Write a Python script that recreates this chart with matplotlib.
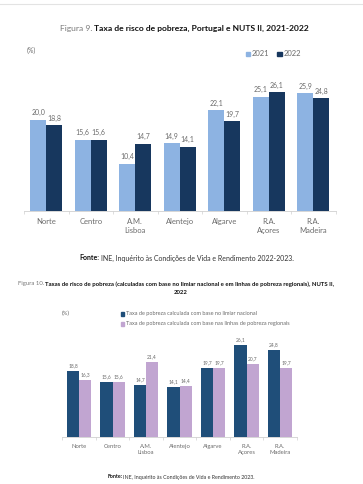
import numpy as np
import matplotlib.pyplot as plt
from matplotlib.patches import Rectangle
from matplotlib.lines import Line2D

plt.rcParams['font.family'] = ['Lato', 'DejaVu Sans']

W, H = 363, 484
regioes = ['Norte', 'Centro', 'A.M.\nLisboa', 'Alentejo', 'Algarve', 'R.A.\nAçores', 'R.A.\nMadeira']
taxa_2021 = [20.0, 15.6, 10.4, 14.9, 22.1, 25.1, 25.9]
taxa_2022 = [18.8, 15.6, 14.7, 14.1, 19.7, 26.1, 24.8]
limiar_nacional = [18.8, 15.6, 14.7, 14.1, 19.7, 26.1, 24.8]
linhas_regionais = [16.3, 15.6, 21.4, 14.4, 19.7, 20.7, 19.7]

c_light, c_navy = '#8db3e2', '#17375e'
c_blue, c_lilac = '#1f4e79', '#c1a5d1'
grey = '#6b6b6b'

fig = plt.figure(figsize=(W / 100, H / 100), dpi=100, facecolor='white')
renderer = fig.canvas.get_renderer()


def fx(x):
    return x / W


def fy(y):
    return 1 - y / H


def rich_text(parts, cx, y, size, gap=2.0):
    # parts: list of (texto, peso, cor); centred at cx (pixels), gap px between parts
    objs = []
    for s, wgt, col in parts:
        t = fig.text(0, fy(y), s, fontsize=size, fontweight=wgt, color=col, va='center', ha='left')
        objs.append(t)
    widths = [o.get_window_extent(renderer).width for o in objs]
    x = cx - (sum(widths) + gap * (len(objs) - 1)) / 2
    for o, w in zip(objs, widths):
        o.set_x(fx(x))
        x += w + gap


def setup_axis(ax, size, pad):
    ax.set_xlim(-0.5, 6.5)
    ax.set_ylim(0, 30)
    for s in ['top', 'right', 'left']:
        ax.spines[s].set_visible(False)
    ax.spines['bottom'].set_color('#d0d0d0')
    ax.spines['bottom'].set_linewidth(0.6)
    ax.set_yticks([])
    ax.set_xticks(range(7))
    ax.set_xticklabels(regioes, fontsize=size, color=grey, linespacing=1.3)
    ax.tick_params(axis='x', length=0, pad=pad)
    ax.set_xticks(np.arange(-0.5, 7, 1), minor=True)
    ax.tick_params(axis='x', which='minor', length=2, color='#d0d0d0', width=0.5)


# page line at the top
fig.add_artist(Line2D([0, 1], [fy(4), fy(4)], color='#e3e3e3', lw=0.8))

# ---- Figura 9 ----
rich_text([('Figura 9.', 'normal', '#7a7a7a'),
           ('Taxa de risco de pobreza, Portugal e NUTS II, 2021-2022', 'bold', '#111111')], 184, 28, 6.1, gap=2.0)
fig.text(fx(27), fy(50), '(%)', fontsize=5, color=grey, va='center')

ax1 = fig.add_axes([fx(24), (H - 211) / H, 7 * 44.5 / W, 136.5 / H])
x = np.arange(7)
bw = 0.36
ax1.bar(x - bw / 2, taxa_2021, bw, color=c_light)
ax1.bar(x + bw / 2, taxa_2022, bw, color=c_navy)
for i in range(7):
    ax1.text(x[i] - bw / 2, taxa_2021[i] + 0.8, f'{taxa_2021[i]:.1f}'.replace('.', ','),
             ha='center', va='bottom', fontsize=5, color=grey)
    ax1.text(x[i] + bw / 2, taxa_2022[i] + 0.8, f'{taxa_2022[i]:.1f}'.replace('.', ','),
             ha='center', va='bottom', fontsize=5, color=grey)
setup_axis(ax1, 5.5, 5)

# legenda 1
fig.add_artist(Rectangle((fx(246), fy(56.2)), fx(4.5), 4.5 / H, color=c_light))
fig.text(fx(252), fy(54), '2021', fontsize=5.5, color=grey, va='center')
fig.add_artist(Rectangle((fx(277), fy(56.2)), fx(4.5), 4.5 / H, color=c_navy))
fig.text(fx(283.5), fy(54), '2022', fontsize=5.5, color=grey, va='center')

rich_text([('Fonte:', 'bold', '#111111'),
           ('INE, Inquérito às Condições de Vida e Rendimento 2022-2023.', 'normal', '#333333')], 187, 258, 5, gap=1.5)

# ---- Figura 10 ----
rich_text([('Figura 10.', 'normal', '#7a7a7a'),
           ('Taxas de risco de pobreza (calculadas com base no limiar nacional e em linhas de pobreza regionais), NUTS II,',
            'bold', '#111111')], 176, 284, 4.35, gap=1.5)
fig.text(fx(181), fy(293), '2022', fontsize=4.35, fontweight='bold', color='#111111', ha='center', va='center')
fig.text(fx(62), fy(313), '(%)', fontsize=4.2, color=grey, va='center')

fig.add_artist(Rectangle((fx(121), fy(315.6)), fx(3.4), 3.4 / H, color=c_blue))
fig.text(fx(126), fy(314), 'Taxa de pobreza calculada com base no limiar nacional',
         fontsize=4, color=grey, va='center')
fig.add_artist(Rectangle((fx(121), fy(325.6)), fx(3.4), 3.4 / H, color=c_lilac))
fig.text(fx(126), fy(324), 'Taxa de pobreza calculada com base nas linhas de pobreza regionais',
         fontsize=4, color=grey, va='center')

ax2 = fig.add_axes([fx(62.25), (H - 437) / H, 7 * 33.5 / W, 105.6 / H])
bw2 = 0.36
ax2.bar(x - bw2 / 2, limiar_nacional, bw2, color=c_blue)
ax2.bar(x + bw2 / 2, linhas_regionais, bw2, color=c_lilac)
for i in range(7):
    ax2.text(x[i] - bw2 / 2, limiar_nacional[i] + 0.8, f'{limiar_nacional[i]:.1f}'.replace('.', ','),
             ha='center', va='bottom', fontsize=3.5, color=grey)
    ax2.text(x[i] + bw2 / 2, linhas_regionais[i] + 0.8, f'{linhas_regionais[i]:.1f}'.replace('.', ','),
             ha='center', va='bottom', fontsize=3.5, color=grey)
setup_axis(ax2, 4.2, 5)

rich_text([('Fonte:', 'bold', '#111111'),
           ('INE, Inquérito às Condições de Vida e Rendimento 2023.', 'normal', '#333333')], 181, 477, 3.8, gap=1.2)

fig.savefig('out.png', dpi=100, facecolor='white')
